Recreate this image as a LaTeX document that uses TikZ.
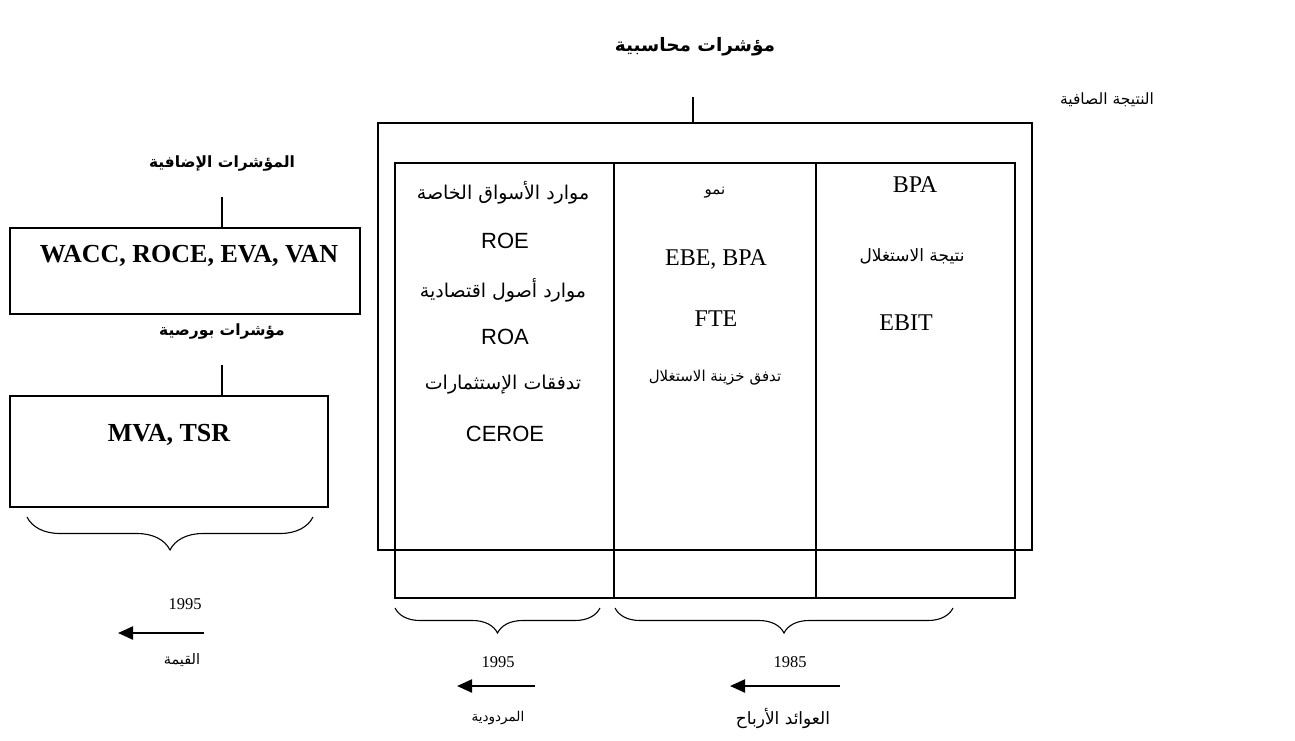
\documentclass[tikz,border=0pt]{standalone}
\usepackage{fontspec}
\setmainfont{Liberation Serif}
\newfontfamily\arsans[Script=Arabic]{DejaVu Sans}
\newfontfamily\lsans{Liberation Sans}
\usetikzlibrary{arrows.meta,decorations.pathreplacing}
\TeXXeTstate=1
\newcommand{\ar}[1]{{\arsans\beginR #1\endR}}
\begin{document}
\begin{tikzpicture}[x=1pt,y=-1pt,
  box/.style={draw, line width=1.3pt, inner sep=0pt},
  ln/.style={line width=1.1pt},
  arr/.style={line width=2.2pt, -{Triangle[length=15pt,width=13pt]}},
  brc/.style={decorate, decoration={brace, mirror, amplitude=#1}, line width=1.1pt},
  latb/.style={font=\fontsize{26}{30}\selectfont\bfseries, inner sep=0pt},
  lat/.style={font=\fontsize{24}{28}\selectfont, inner sep=0pt},
  yr/.style={font=\fontsize{16.5}{19}\selectfont, inner sep=0pt},
  ssf/.style={font=\lsans\fontsize{22}{26}\selectfont, inner sep=0pt},
  arb/.style={font=\fontsize{15.5}{20}\selectfont\bfseries, inner sep=0pt},
  arm/.style={font=\fontsize{19}{23}\selectfont, inner sep=0pt},
  ars/.style={font=\fontsize{15}{18}\selectfont, inner sep=0pt}]
\useasboundingbox (0,0) rectangle (1295,740);

% title
\node[arb, font=\fontsize{18.5}{22}\selectfont\bfseries] (title) at (695,47) {\ar{مؤشرات محاسبية}};
\node[arm, font=\fontsize{15.5}{19}\selectfont] (net) at (1107,100) {\ar{النتيجة الصافية}};

% left part
\node[arb] (h1) at (222,163) {\ar{المؤشرات الإضافية}};
\node[box, minimum width=350, minimum height=86] (b1) at (185,271) {};
\node[latb] (b1t) at (189,256) {WACC, ROCE, EVA, VAN};
\coordinate (h1c) at (222,197);
\draw[ln] (h1c) -- (h1c |- b1.north);

\node[arb] (h2) at (222,331) {\ar{مؤشرات بورصية}};
\node[box, minimum width=318, minimum height=111] (b2) at (169,451.5) {};
\node[latb] (b2t) at (169,435) {MVA, TSR};
\coordinate (h2c) at (222,365);
\draw[ln] (h2c) -- (h2c |- b2.north);

\coordinate (lb1) at (27,517);
\coordinate (lb2) at (313,517);
\draw[brc=33pt] (lb1) -- (lb2);
\node[yr] (y1) at (185,604) {1995};
\coordinate (a1s) at (204,633);
\coordinate (a1e) at (118,633);
\draw[arr] (a1s) -- (a1e);
\node[ars, font=\fontsize{14.5}{17}\selectfont] (l1) at (182,660) {\ar{القيمة}};

% main boxes
\node[box, minimum width=654, minimum height=427] (outer) at (705,336.5) {};
\coordinate (topc) at (693,97);
\draw[ln] (topc) -- (topc |- outer.north);

\node[box, minimum width=219, minimum height=435] (c1) at (504.5,380.5) {};
\node[box, minimum width=202, minimum height=435] (c2) at (715,380.5) {};
\node[box, minimum width=199, minimum height=435] (c3) at (915.5,380.5) {};

% column 1
\node[arm] (c1a) at (503,193) {\ar{موارد الأسواق الخاصة}};
\node[ssf] (c1b) at (505,241) {ROE};
\node[arm] (c1c) at (503,290) {\ar{موارد أصول اقتصادية}};
\node[ssf] (c1d) at (505,337) {ROA};
\node[arm] (c1e) at (503,385) {\ar{تدفقات الإستثمارات}};
\node[ssf] (c1f) at (505,434) {CEROE};

% column 2
\node[ars] (c2a) at (715,193) {\ar{نمو}};
\node[lat] (c2b) at (716,259) {EBE, BPA};
\node[lat] (c2c) at (716,319) {FTE};
\node[ars] (c2d) at (715,378) {\ar{تدفق خزينة الاستغلال}};

% column 3
\node[lat] (c3a) at (915,185) {BPA};
\node[arm, font=\fontsize{17}{21}\selectfont] (c3b) at (912,256) {\ar{نتيجة الاستغلال}};
\node[lat] (c3c) at (906,323) {EBIT};

% bottom
\coordinate (bb1) at (395,608);
\coordinate (bb2) at (600,608);
\coordinate (bb3) at (615,608);
\coordinate (bb4) at (953,608);
\draw[brc=25pt] (bb1) -- (bb2);
\draw[brc=25pt] (bb3) -- (bb4);
\node[yr] (y2) at (498,662) {1995};
\node[yr] (y3) at (790,662) {1985};
\coordinate (a2s) at (535,686);
\coordinate (a2e) at (457,686);
\coordinate (a3s) at (840,686);
\coordinate (a3e) at (730,686);
\draw[arr] (a2s) -- (a2e);
\draw[arr] (a3s) -- (a3e);
\node[ars, font=\fontsize{13.5}{16}\selectfont] (l2) at (498,718) {\ar{المردودية}};
\node[ars, font=\fontsize{17}{20}\selectfont] (l3) at (783,718) {\ar{العوائد الأرباح}};
\end{tikzpicture}
\end{document}
